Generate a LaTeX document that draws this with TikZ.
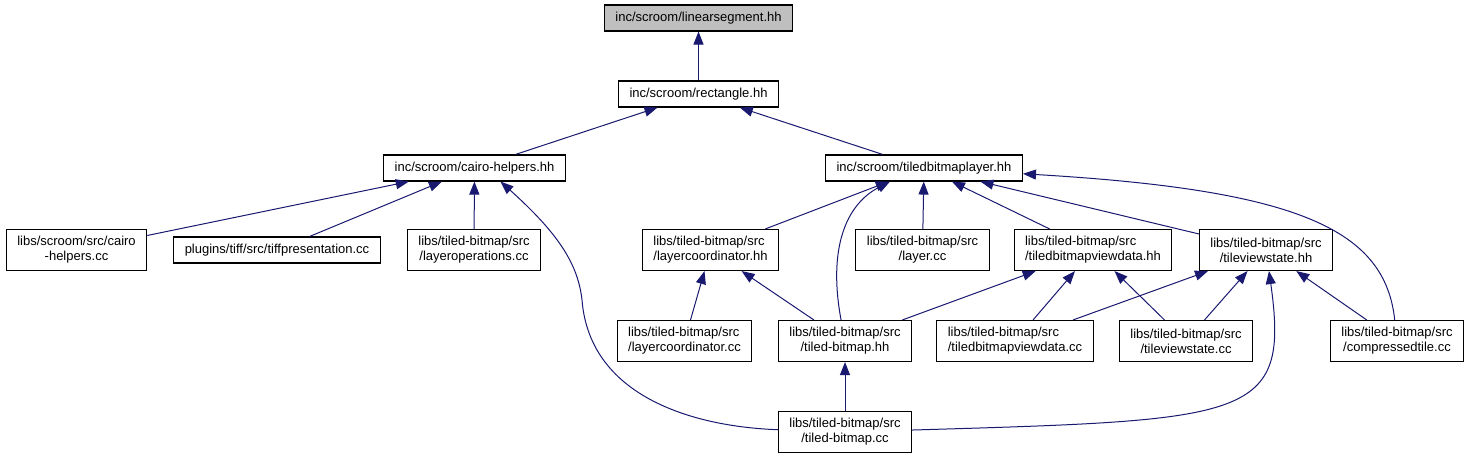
\documentclass[tikz,border=0pt]{standalone}
\usepackage{fontspec}
\setmainfont{Liberation Sans}
\usepackage{xcolor}
\usepackage{tikz}
\usetikzlibrary{arrows.meta}
\usetikzlibrary{positioning}

\definecolor{edgeblue}{HTML}{191970}
\definecolor{headgrey}{HTML}{BFBFBF}

\begin{document}
\begin{tikzpicture}[
    x=1pt, y=-1pt,
    every node/.style={rectangle, draw=black, fill=white, line width=1.1pt,
      font=\fontsize{13}{15}\selectfont, inner xsep=11pt, inner ysep=2pt,
      align=center, minimum height=41pt},
    one line/.style={minimum height=26pt},
    dep/.style={{Triangle[length=13pt, width=10pt]}-, draw=edgeblue, line width=1pt},
  ]

  \useasboundingbox (0,0) rectangle (1469,459);

  \node[one line, fill=headgrey] (lseg) at (698.5, 18)  {inc/scroom/linearsegment.hh};
  \node[one line] (rect)     at (698.5, 94)  {inc/scroom/rectangle.hh};
  \node[one line] (cairoh)   at (474.5, 168) {inc/scroom/cairo-helpers.hh};
  \node[one line] (tbl)      at (924, 168)   {inc/scroom/tiledbitmaplayer.hh};

  \node (cairocc)            at (76.5, 250)  {libs/scroom/src/cairo\\-helpers.cc};
  \node[one line] (tiffpres) at (277, 250)   {plugins/tiff/src/tiffpresentation.cc};
  \node (layerops)           at (474, 250)   {libs/tiled-bitmap/src\\/layeroperations.cc};
  \node[align=left] (lcoordhh) at (710.5, 250) {libs/tiled-bitmap/src\\/layercoordinator.hh};
  \node (layercc)            at (922.5, 250) {libs/tiled-bitmap/src\\/layer.cc};
  \node[align=left] (tbvdhh) at (1093, 250)  {libs/tiled-bitmap/src\\/tiledbitmapviewdata.hh};
  \node (tvshh)              at (1266, 250)  {libs/tiled-bitmap/src\\/tileviewstate.hh};

  \node[align=left] (lcoordcc) at (684.5, 341) {libs/tiled-bitmap/src\\/layercoordinator.cc};
  \node (tbhh)               at (845, 341)   {libs/tiled-bitmap/src\\/tiled-bitmap.hh};
  \node[align=left] (tbvdcc) at (1015, 341)  {libs/tiled-bitmap/src\\/tiledbitmapviewdata.cc};
  \node (tvscc)              at (1186, 341)  {libs/tiled-bitmap/src\\/tileviewstate.cc};
  \node (ctilecc)            at (1397, 341)  {libs/tiled-bitmap/src\\/compressedtile.cc};

  \node (tbcc)               at (845, 432)   {libs/tiled-bitmap/src\\/tiled-bitmap.cc};

  \draw[dep] (lseg) -- (rect);
  \draw[dep] (rect) -- (cairoh);
  \draw[dep] (rect) -- (tbl);

  \draw[dep] (cairoh) -- (cairocc);
  \draw[dep] (cairoh) -- (tiffpres);
  \draw[dep] (cairoh) -- (layerops);
  \draw[dep] ([xshift=26pt]cairoh.south) .. controls (560,235) and (578,265) .. (582,300)
    .. controls (590,400) and (700,427) .. (tbcc);

  \draw[dep] (tbl) -- (lcoordhh);
  \draw[dep] ([xshift=-34pt]tbl.south) .. controls (845,205) and (828,250) .. (tbhh);
  \draw[dep] (tbl) -- (layercc);
  \draw[dep] (tbl) -- (tbvdhh);
  \draw[dep] (tbl) -- (tvshh);
  \draw[dep] (tbl) .. controls (1300,190) and (1385,230) .. (ctilecc);

  \draw[dep] (lcoordhh) -- (lcoordcc);
  \draw[dep] (lcoordhh) -- (tbhh);
  \draw[dep] (tbvdhh) -- (tbhh);
  \draw[dep] (tbvdhh) -- (tbvdcc);
  \draw[dep] (tbvdhh) -- (tvscc);
  \draw[dep] (tvshh) -- (tbvdcc);
  \draw[dep] (tvshh) -- (tvscc);
  \draw[dep] (tvshh) .. controls (1290,420) and (1250,420) .. (tbcc);
  \draw[dep] (tvshh) -- (ctilecc);
  \draw[dep] (tbhh) -- (tbcc);

\end{tikzpicture}
\end{document}
